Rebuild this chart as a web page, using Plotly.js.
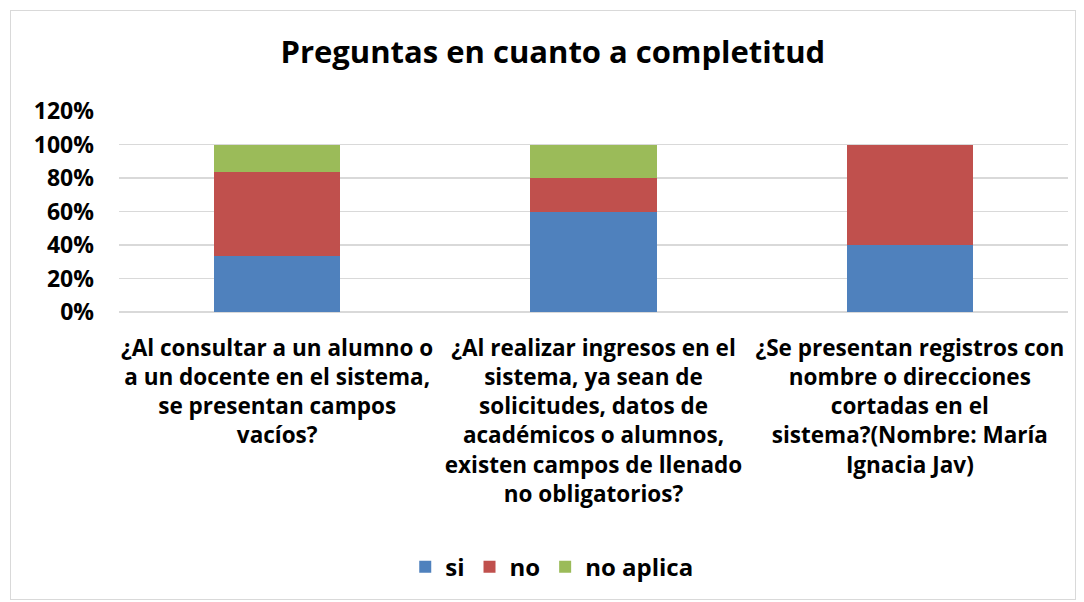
<!DOCTYPE html>
<html><head><meta charset="utf-8">
<script src="https://cdn.plot.ly/plotly-3.0.1.min.js"></script>
<style>
html,body{margin:0;padding:0;background:#fff;}
#frame{position:absolute;left:10px;top:10px;width:1066px;height:590px;border:1px solid #d9d9d9;box-sizing:border-box;}
#chart{position:absolute;left:0;top:0;width:1084px;height:602px;}
</style></head>
<body>
<div id="frame"></div>
<div id="chart"></div>
<script>
const categories = [
  "¿Al consultar a un alumno o<br>a un docente en el sistema,<br>se presentan campos<br>vacíos?",
  "¿Al realizar ingresos en el<br>sistema, ya sean de<br>solicitudes, datos de<br>académicos o alumnos,<br>existen campos de llenado<br>no obligatorios?",
  "¿Se presentan registros con<br>nombre o direcciones<br>cortadas en el<br>sistema?(Nombre: María<br>Ignacia Jav)"
];
const si = [0.333, 0.60, 0.40];
const no = [0.50, 0.20, 0.60];
const noAplica = [0.167, 0.20, 0];
const yTicks = [0, 0.2, 0.4, 0.6, 0.8, 1.0, 1.2];
const yTickLabels = ["0%", "20%", "40%", "60%", "80%", "100%", "120%"];

const FONT = "'Open Sans', Lato, sans-serif";
const bold = s => '<b>' + s.split('<br>').join('</b><br><b>') + '</b>';
const mk = (name, y, color) => ({type:'bar', name:'<b>'+name+'</b>', x:categories.map(bold), y, marker:{color}, width:0.4});
const data = [
  mk('si', si, '#4F81BD'),
  mk('no', no, '#C0504D'),
  mk('no aplica', noAplica, '#9BBB59')
];
const layout = {
  width:1084, height:602,
  paper_bgcolor:'rgba(0,0,0,0)', plot_bgcolor:'rgba(0,0,0,0)',
  margin:{l:119, r:16, t:111, b:290},
  barmode:'stack',
  font:{family:FONT, color:'#000', size:20},
  title:{text:'<b>Preguntas en cuanto a completitud</b>', font:{family:FONT, size:31, color:'#000'}, x:0.51, xanchor:'center', y:0.913, yanchor:'middle'},
  xaxis:{tickfont:{family:FONT, size:22.5, color:'#000'}, tickangle:0, showline:false, ticks:'', ticklabelstandoff:20, fixedrange:true},
  yaxis:{range:[0,1.2], tickvals:yTicks, ticktext:yTickLabels.map(t=>'<b>'+t+'</b>'), showgrid:true, gridcolor:'#d9d9d9', gridwidth:1.3,
         zeroline:true, zerolinecolor:'#d9d9d9', zerolinewidth:1.3, tickfont:{family:FONT, size:23, color:'#000'}, ticklabelstandoff:24, fixedrange:true},
  legend:{orientation:'h', x:0.456, xanchor:'center', y:-1.27, yanchor:'middle', font:{family:FONT, size:24, color:'#000'}, traceorder:'normal', itemwidth:30},
  showlegend:true
};
Plotly.newPlot('chart', data, layout, {displayModeBar:false, staticPlot:true});
</script>
</body></html>
